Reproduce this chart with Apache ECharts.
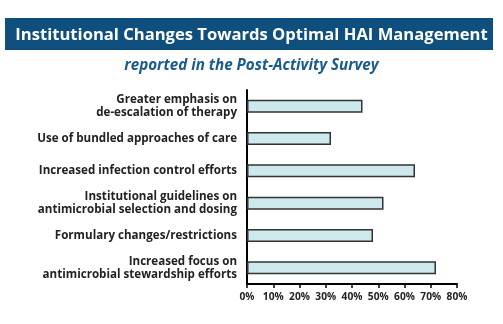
<!DOCTYPE html>
<html><head><meta charset="utf-8">
<script src="https://cdn.jsdelivr.net/npm/echarts@6/dist/echarts.min.js"></script>
<style>html,body{margin:0;padding:0;background:#fff}#c{width:503px;height:324px}</style>
</head><body><div id="c"></div>
<script>
const categories = [
  "Greater emphasis on\nde-escalation of therapy",
  "Use of bundled approaches of care",
  "Increased infection control efforts",
  "Institutional guidelines on\nantimicrobial selection and dosing",
  "Formulary changes/restrictions",
  "Increased focus on\nantimicrobial stewardship efforts"
];
const values = [44, 32, 64, 52, 48, 72];
const tickLabels = ["0%","10%","20%","30%","40%","50%","60%","70%","80%"];
const titleText = "Institutional Changes Towards Optimal HAI Management";
const subtitleText = "reported in the Post-Activity Survey";

const chart = echarts.init(document.getElementById('c'), null, {renderer:'canvas'});
chart.setOption({
  animation:false,
  graphic:[{type:'rect', shape:{x:5,y:18,width:488,height:32}, style:{fill:'#0f4f7d'}}],
  title:[
    {text:titleText, left:'center', top:22, textStyle:{color:'#fff', fontFamily:'Open Sans', fontWeight:'bold', fontSize:16.6}},
    {text:subtitleText, left:'center', top:53, textStyle:{color:'#1a5a8c', fontFamily:'Open Sans', fontWeight:'bold', fontStyle:'italic', fontSize:15.2}}
  ],
  grid:{left:247, top:90, width:210, height:194, containLabel:false},
  xAxis:{type:'value', min:0, max:80, interval:10,
    axisLine:{show:true, lineStyle:{color:'#000', width:2}},
    axisTick:{show:true, length:4, lineStyle:{color:'#000', width:1.5}},
    splitLine:{show:false},
    axisLabel:{formatter:(v)=>tickLabels[Math.round(v/10)], color:'#222', fontFamily:'Open Sans', fontWeight:'bold', fontSize:10.2, margin:8}
  },
  yAxis:{type:'category', inverse:true, data:categories,
    axisLine:{show:true, lineStyle:{color:'#000', width:2}},
    axisTick:{show:false},
    axisLabel:{color:'#222', fontFamily:'Open Sans', fontWeight:'bold', fontSize:11.6, lineHeight:13, margin:10, align:'right'}
  },
  series:[{type:'bar', data:values, barWidth:13,
    itemStyle:{color:'#cde9ed', borderColor:'#333', borderWidth:1.5}}]
});
</script></body></html>
